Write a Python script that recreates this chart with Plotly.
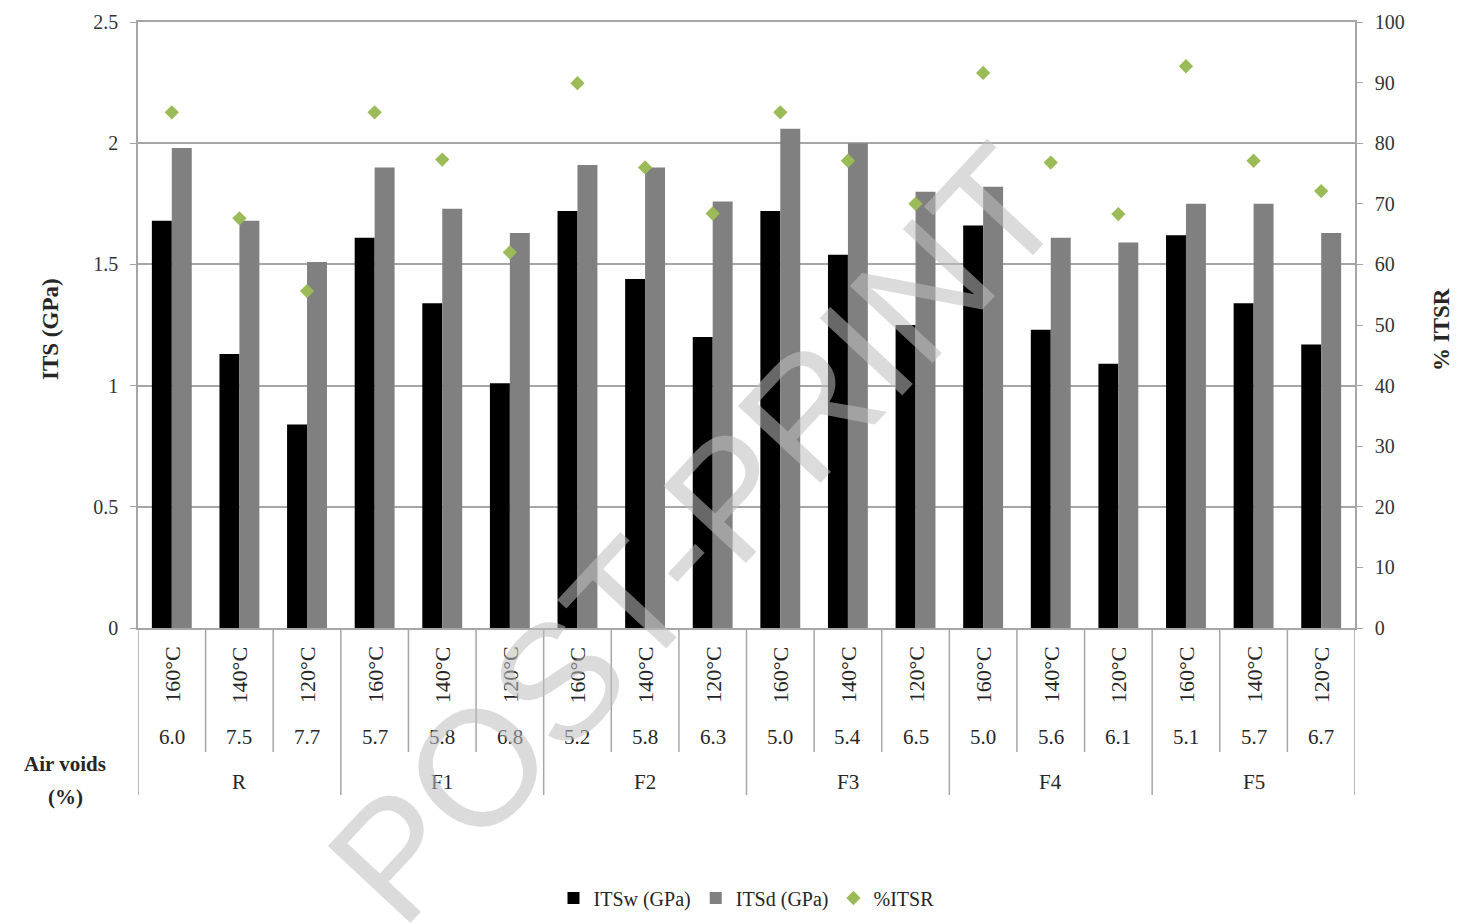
import plotly.graph_objects as go

# Mixes, compaction temperatures and measured air voids
groups = ["R", "F1", "F2", "F3", "F4", "F5"]
temperatures = ["160°C", "140°C", "120°C"]
air_voids = ["6.0", "7.5", "7.7", "5.7", "5.8", "6.8", "5.2", "5.8", "6.3",
             "5.0", "5.4", "6.5", "5.0", "5.6", "6.1", "5.1", "5.7", "6.7"]

# Indirect tensile strength, wet and dry (GPa)
its_wet = [1.68, 1.13, 0.84, 1.61, 1.34, 1.01, 1.72, 1.44, 1.20,
           1.72, 1.54, 1.25, 1.66, 1.23, 1.09, 1.62, 1.34, 1.17]
its_dry = [1.98, 1.68, 1.51, 1.90, 1.73, 1.63, 1.91, 1.90, 1.76,
           2.06, 2.00, 1.80, 1.82, 1.61, 1.59, 1.75, 1.75, 1.63]
# Tensile strength ratio (%)
itsr = [85.1, 67.6, 55.6, 85.1, 77.3, 62.0, 89.9, 76.0, 68.4,
        85.1, 77.1, 70.0, 91.6, 76.8, 68.3, 92.7, 77.1, 72.1]

n = len(its_wet)
xs = list(range(n))
SERIF = "Liberation Serif"
GRID = "#a6a6a6"
TXT = "#262626"
LBL = 21

fig = go.Figure()
fig.add_trace(go.Bar(x=xs, y=its_wet, name="ITSw (GPa)", marker_color="#000000",
                     marker_line_width=0))
fig.add_trace(go.Bar(x=xs, y=its_dry, name="ITSd (GPa)", marker_color="#808080",
                     marker_line_width=0))
fig.add_trace(go.Scatter(x=xs, y=itsr, name="%ITSR", mode="markers", yaxis="y2",
                         marker=dict(symbol="diamond", size=11, color="#9bbb59")))

annotations = []
shapes = []
plot_h = 923 - 22 - 295


def label(x, text, yshift, xref="x", xshift=0, angle=0, size=LBL, bold=False):
    return dict(x=x, y=0, xref=xref, yref="paper", text=f"<b>{text}</b>" if bold else text,
                textangle=angle, showarrow=False, xanchor="center", yanchor="middle",
                xshift=xshift, yshift=yshift, font=dict(family=SERIF, size=size, color=TXT))


# Category labels: temperature (rotated), air voids, mix group
for i in xs:
    annotations.append(label(i, temperatures[i % 3], -47, angle=-90, size=22))
    annotations.append(label(i, air_voids[i], -109))
for g, name in enumerate(groups):
    annotations.append(label(3 * g + 1, name, -154))

# Divider lines below the axis
for k in range(n + 1):
    xb = k - 0.5
    depth = 167 if k % 3 == 0 else 124
    shapes.append(dict(type="line", xref="x", yref="paper", x0=xb, x1=xb,
                       y0=0, y1=-depth / plot_h, line=dict(color=GRID, width=1.5)))

annotations += [
    label(0, "Air voids", -136, xref="paper", xshift=-73, bold=True),
    label(0, "(%)", -169, xref="paper", xshift=-73, bold=True),
    dict(x=0, y=0.5, xref="paper", yref="paper", text="<b>ITS (GPa)</b>", showarrow=False,
         xanchor="center", yanchor="middle", textangle=-90, xshift=-88, yshift=-4,
         font=dict(family=SERIF, size=23, color=TXT)),
    dict(x=1, y=0.5, xref="paper", yref="paper", text="<b>% ITSR</b>", showarrow=False,
         xanchor="center", yanchor="middle", textangle=-90, xshift=86, yshift=-5,
         font=dict(family=SERIF, size=23, color=TXT)),
    # Diagonal watermark
    dict(x=(695 - 138) / 1217, y=(628 - 534) / plot_h, xref="paper", yref="paper",
         text="POST-PRINT", showarrow=False, xanchor="center", yanchor="middle",
         textangle=-47, font=dict(family="Liberation Sans", size=164,
                                  color="rgba(190,190,190,0.55)")),
]

fig.update_layout(
    width=1458, height=923,
    margin=dict(l=138, r=103, t=22, b=295, autoexpand=False),
    paper_bgcolor="white", plot_bgcolor="white",
    barmode="group", bargap=0.41, bargroupgap=0,
    font=dict(family=SERIF, size=20, color=TXT),
    xaxis=dict(range=[-0.5, n - 0.5], showticklabels=False, showgrid=False,
               zeroline=False, showline=True, mirror=True, linecolor=GRID, linewidth=1.5),
    yaxis=dict(range=[0, 2.5], dtick=0.5, showgrid=True, gridcolor=GRID, gridwidth=1.5,
               zeroline=False, showline=True, linecolor=GRID, linewidth=1.5,
               ticks="outside", ticklen=6, tickcolor=GRID, ticklabelstandoff=8,
               tickfont=dict(family=SERIF, size=20, color="#333333")),
    yaxis2=dict(range=[0, 100], dtick=10, overlaying="y", side="right", showgrid=False,
                zeroline=False, showline=True, linecolor=GRID, linewidth=1.5,
                ticks="outside", ticklen=6, tickcolor=GRID, ticklabelstandoff=8,
                tickfont=dict(family=SERIF, size=20, color="#333333")),
    legend=dict(orientation="h", x=0.5, xanchor="center", y=-270 / plot_h,
                yanchor="middle", font=dict(family=SERIF, size=20, color=TXT),
                itemwidth=30, tracegroupgap=0),
    annotations=annotations, shapes=shapes,
)

fig.write_html("out.html")
